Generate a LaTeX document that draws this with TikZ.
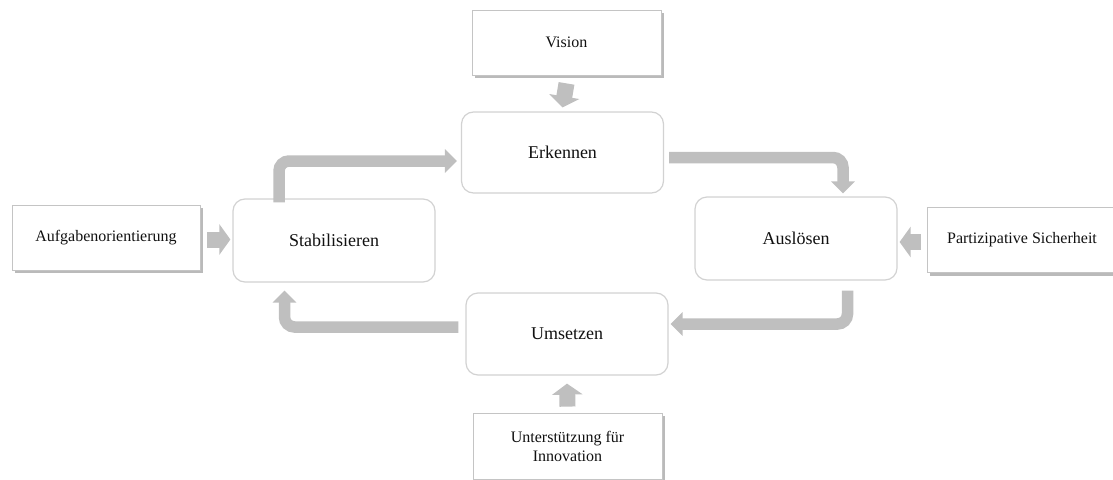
\documentclass[tikz,border=0pt]{standalone}
\usepackage{fontspec}
\setmainfont{Liberation Serif}
\usetikzlibrary{arrows.meta,shadows,calc}
\definecolor{arr}{HTML}{BFBFBF}
\definecolor{bord}{HTML}{D2D2D2}
\definecolor{sbord}{HTML}{C4C4C4}
\definecolor{txt}{HTML}{111111}
\begin{document}
\begin{tikzpicture}[x=1pt,y=-1pt,
  mainbox/.style={draw=bord, line width=1.2pt, rounded corners=12pt, fill=white,
    minimum width=202pt, minimum height=82pt, font=\fontsize{18}{22}\selectfont,
    text=txt, inner sep=0pt},
  sidebox/.style={draw=sbord, line width=0.8pt, fill=white, minimum width=189pt,
    minimum height=65pt, font=\fontsize{16}{19}\selectfont, text=txt, inner sep=0pt,
    align=center, drop shadow={shadow xshift=2.5pt, shadow yshift=-3pt, fill=black!45, opacity=0.6}},
  flow/.style={draw=arr, line width=11.5pt, rounded corners=10pt, -{Triangle[width=23pt,length=12pt]}},
  feed/.style={draw=arr, line width=16pt, -{Triangle[width=30pt,length=11pt]}}]
\path[use as bounding box, clip] (0,0) rectangle (1113,479);

\node[sidebox] (vision) at (566.5,42.5) {Vision};
\node[mainbox, minimum height=81pt] (erk) at (562.5,152.5) {Erkennen};
\node[sidebox, minimum width=188pt] (aufg) at (106,237.5) {Aufgabenorientierung};
\node[mainbox, minimum height=83pt] (stab) at (334,240.5) {Stabilisieren};
\node[mainbox, minimum height=83pt] (aus) at (796,238.5) {Auslösen};
\node[sidebox] (part) at (1022,240) {Partizipative Sicherheit};
\node[mainbox] (um) at (567,334) {Umsetzen};
\node[sidebox, minimum height=66pt] (unter) at (567.5,446) {Unterstützung für\\Innovation};

% feeding arrows
\draw[feed] ([yshift=-8pt]vision.south) -- ([yshift=4pt]erk.north);
\draw[feed] ([xshift=7pt,yshift=-2pt]aufg.east) -- ([xshift=-2pt,yshift=-2pt]aufg.east -| stab.west);
\draw[feed] ([xshift=-6pt,yshift=-2pt]part.west) -- ([xshift=2pt,yshift=-2pt]part.west -| aus.east);
\draw[feed] ([yshift=6pt]unter.north) -- ([yshift=-8pt]um.south);

% cycle arrows
\draw[flow] ($(stab.north)+(-55,4)$) |- ($(erk.west)+(-4,8.5)$);
\draw[flow] ($(erk.east)+(5,5)$) -| ($(aus.north)+(47,-3)$);
\draw[flow] ($(aus.south)+(51.5,10)$) |- ($(um.east)+(2,-10)$);
\draw[flow] ($(um.west)+(-7,-7)$) -| ($(stab.south)+(-49.5,8)$);
\end{tikzpicture}
\end{document}
